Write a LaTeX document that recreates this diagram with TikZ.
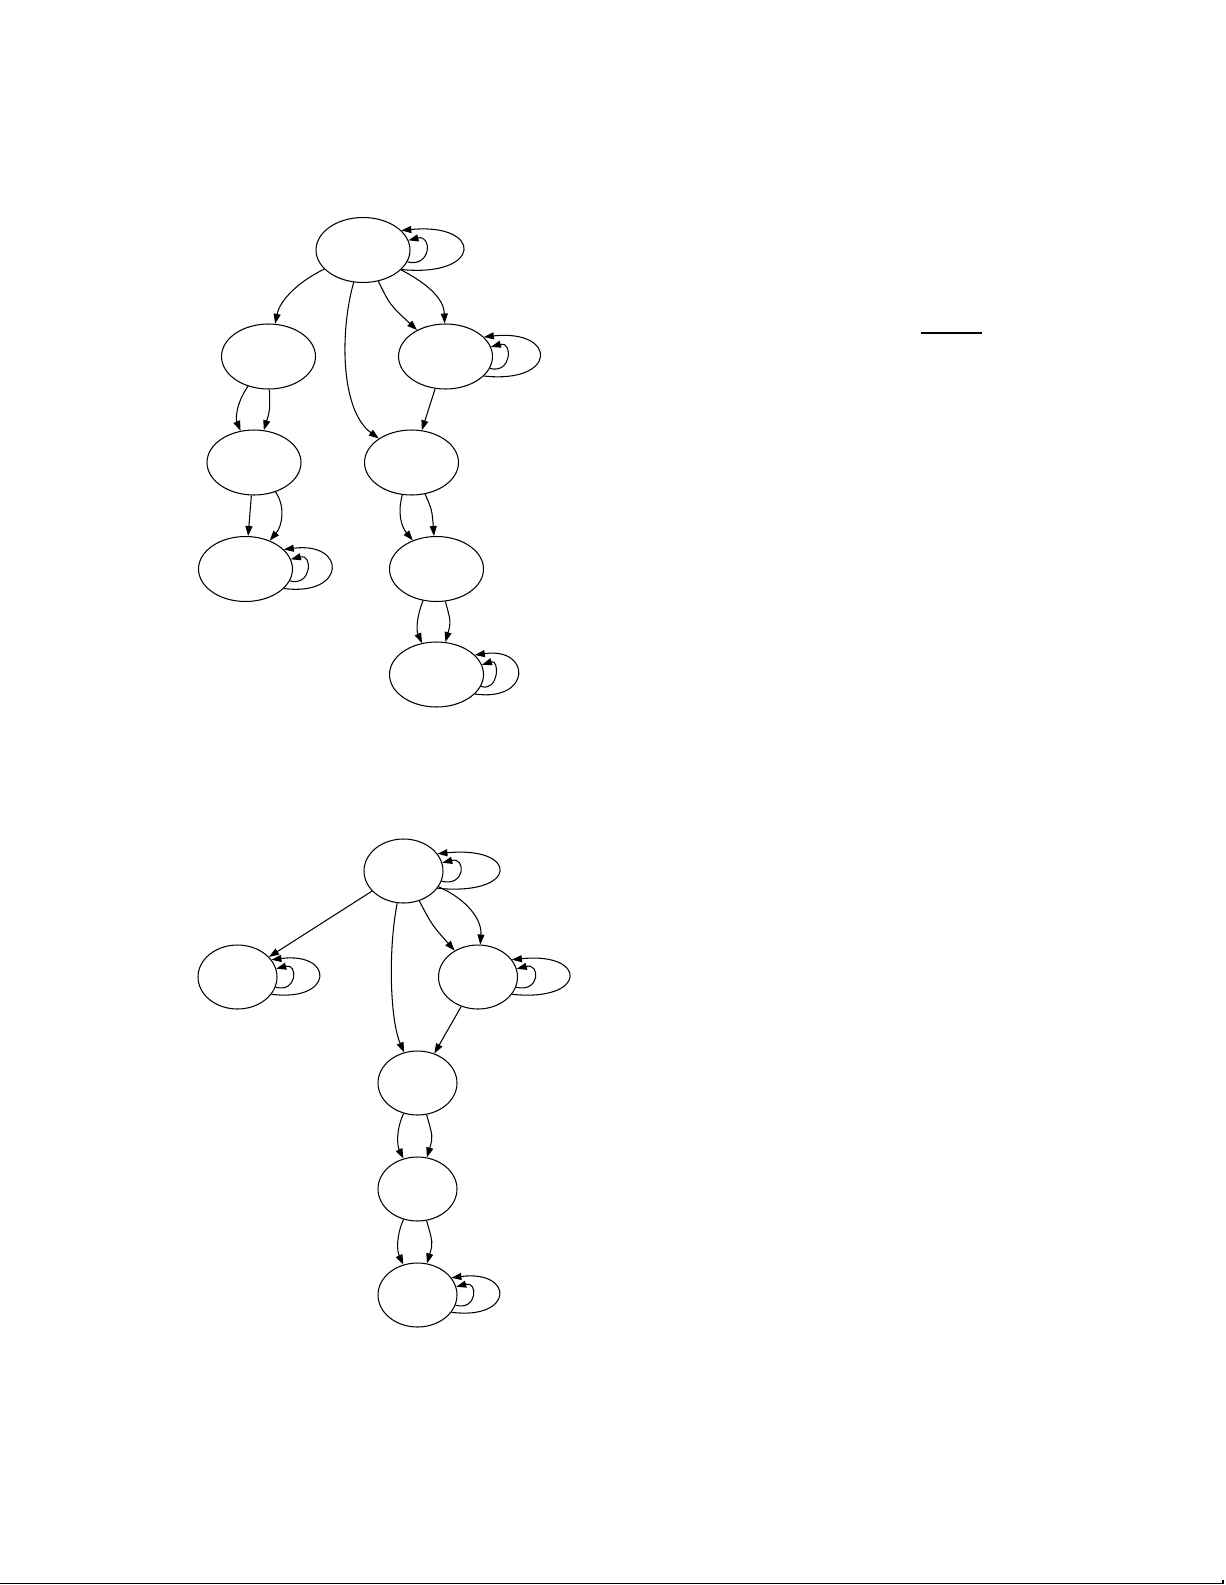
\documentclass[tikz,border=0pt]{standalone}
\usetikzlibrary{shapes.geometric,arrows.meta}

\tikzstyle{vertex}=[ellipse,draw,line width=0.6pt,minimum width=1.88cm,minimum height=1.3cm,inner sep=0pt]
\tikzstyle{small vertex}=[vertex,minimum width=1.58cm,minimum height=1.28cm]
\tikzstyle{edge} = [draw,line width=0.6pt,-{Triangle[length=2mm,width=1.4mm]}]

\begin{document}
\begin{tikzpicture}[x=0.02cm,y=-0.02cm]
     \useasboundingbox (0,0) rectangle (1225,1585);

     % upper graph
     \foreach \pos/\name in {{(363,250)/t1}, {(268.5,356.5)/t2}, {(445.5,356.5)/t3},
       {(254,462.5)/t4}, {(411.5,462.5)/t5}, {(245.5,569)/t6},
       {(436.5,569)/t7}, {(436.5,674.5)/t8}}
     \node[vertex] (\name) at \pos {};

     \foreach \source/ \dest  in {t3/t5, t4/t6}
     \path[edge] (\source) --   (\dest);

     \path[edge] (t1) .. controls (298,282) and (280,300) .. (t2);
     \path[edge] (t1) .. controls (340,330) and (340,410) .. (t5);
     \path[edge] (t1) .. controls (390,305) .. (t3);
     \path[edge] (t1) .. controls (430,285) and (444,300) .. (t3);
     \path[edge] (t2) .. controls (235,405) and (236,420) .. (t4);
     \path[edge] (t2) .. controls (270,410) .. (t4);
     \path[edge] (t4) .. controls (285,505) and (283,525) .. (t6);
     \path[edge] (t5) .. controls (398,510) and (400,525) .. (t7);
     \path[edge] (t5) .. controls (432,510) .. (t7);
     \path[edge] (t7) .. controls (417,615) and (416,630) .. (t8);
     \path[edge] (t7) .. controls (451,622) .. (t8);

     % lower graph
     \foreach \pos/\name in {{(403.5,871)/b1}, {(237.5,977)/b2}, {(478,977)/b3},
       {(417.5,1083)/b4}, {(417.5,1189)/b5}, {(417.5,1295)/b6}}
     \node[small vertex] (\name) at \pos {};

     \foreach \source/ \dest  in {b1/b2, b3/b4}
     \path[edge] (\source) --   (\dest);

     \path[edge] (b1) .. controls (388,950) and (390,1020) .. (b4);
     \path[edge] (b1) .. controls (432,925) .. (b3);
     \path[edge] (b1) .. controls (468,900) and (482,920) .. (b3);
     \path[edge] (b4) .. controls (396,1130) and (397,1145) .. (b5);
     \path[edge] (b4) .. controls (433,1137) .. (b5);
     \path[edge] (b5) .. controls (396,1236) and (397,1251) .. (b6);
     \path[edge] (b5) .. controls (433,1243) .. (b6);

     % self loops
     \foreach \name/\di/\do in {t1/24/82, t3/22/74, t6/22/63, t8/18/57,
       b1/24/82, b2/22/63, b3/24/76, b6/22/63}
     {
     \path[edge] (\name.-15) .. controls +(\di,6) and +(\di,-6) .. (\name.12);
     \path[edge] (\name.-27) .. controls +(\do,8) and +(\do,-8) .. (\name.27);
     }

     \draw[line width=1.1pt] (921,333) -- (982,333);
     \draw[line width=1pt] (0,1583.5) -- (1223,1583.5) -- (1223,1580);
   \end{tikzpicture}
\end{document}
